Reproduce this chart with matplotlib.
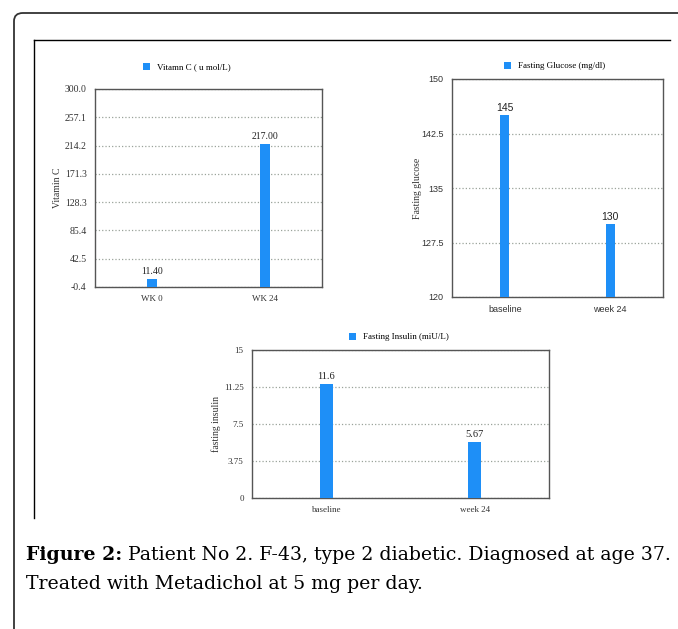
import matplotlib
matplotlib.use("Agg")
import matplotlib.pyplot as plt
from matplotlib.patches import FancyBboxPatch
from matplotlib.lines import Line2D

# data
vitc_labels = ["WK 0", "WK 24"]
vitc_values = [11.40, 217.00]
vitc_ticks = [-0.4, 42.5, 85.4, 128.3, 171.3, 214.2, 257.1, 300.0]

gluc_labels = ["baseline", "week 24"]
gluc_values = [145, 130]
gluc_ticks = [120, 127.5, 135, 142.5, 150]

ins_labels = ["baseline", "week 24"]
ins_values = [11.6, 5.67]
ins_ticks = [0, 3.75, 7.5, 11.25, 15]

W, H = 678, 629
BLUE = "#1e8ff7"
SERIF = ["Liberation Serif", "DejaVu Serif"]
SANS = ["Liberation Sans", "DejaVu Sans"]
CAPTION = ["DejaVu Serif"]

fig = plt.figure(figsize=(W / 100, H / 100), dpi=100)


def px_axes(left, top, right, bottom):
    return fig.add_axes([left / W, 1 - bottom / H, (right - left) / W, (bottom - top) / H])


def style_chart(ax, labels, values, ticks, tick_fmt, ylabel, legend, tick_font,
                val_fmt, label_x, leg_pos, tick_size=6.5, val_size=7.5):
    x = list(range(len(labels)))
    bars = ax.bar(x, values, width=0.088, color=BLUE, label=legend, zorder=3)
    ax.set_xlim(-0.5, len(labels) - 0.5)
    ax.set_ylim(ticks[0], ticks[-1])
    ax.set_yticks(ticks)
    ax.set_yticklabels([tick_fmt % t for t in ticks], family=tick_font,
                       fontsize=tick_size, color="#333333")
    ax.set_xticks(x)
    ax.set_xticklabels(labels, family=tick_font, fontsize=6.5, color="#333333")
    ax.tick_params(length=0, pad=6)
    ax.grid(axis="y", linestyle=":", color="#9aa39a", linewidth=0.9, zorder=0)
    for s in ax.spines.values():
        s.set_color("#555555")
        s.set_linewidth(1.0)
    ax.set_ylabel(ylabel, family=SERIF, fontsize=7, color="#333333")
    ax.yaxis.set_label_coords(label_x, 0.5)
    ax.bar_label(bars, labels=[val_fmt % v for v in values], padding=2,
                 family=tick_font, fontsize=val_size, color="#222222")
    ax.legend(loc="center left", bbox_to_anchor=leg_pos, frameon=False,
              prop={"family": SERIF, "size": 6.5}, handlelength=0.8,
              handleheight=0.8, handletextpad=0.8, borderpad=0, borderaxespad=0)


ax1 = px_axes(95, 89, 322, 287)
style_chart(ax1, vitc_labels, vitc_values, vitc_ticks, "%.1f", "Vitamin C",
            "Vitamn C ( u mol/L)", SERIF, "%.2f", -0.145,
            ((143 - 95) / 227, (287 - 67) / 198), tick_size=7, val_size=7)

ax2 = px_axes(452, 79, 663, 297)
style_chart(ax2, gluc_labels, gluc_values, gluc_ticks, "%g", "Fasting glucose",
            "Fasting Glucose (mg/dl)", SANS, "%d", -0.142,
            ((504 - 452) / 211, (297 - 66) / 218))

ax3 = px_axes(252, 350, 549, 498)
style_chart(ax3, ins_labels, ins_values, ins_ticks, "%g", "fasting insulin",
            "Fasting Insulin (miU/L)", SERIF, "%g", -0.105,
            ((349 - 252) / 297, (498 - 337) / 148))

# outer rounded frame and inner frame lines
outer = FancyBboxPatch((14 / W, -0.1), 1.2, 1 - 13 / H + 0.1,
                       boxstyle="round,pad=0,rounding_size=0.013",
                       transform=fig.transFigure, fill=False,
                       edgecolor="#333333", linewidth=1.3)
fig.add_artist(outer)
fig.add_artist(Line2D([34 / W, 670 / W], [1 - 40 / H, 1 - 40 / H],
                      transform=fig.transFigure, color="black", linewidth=1))
fig.add_artist(Line2D([34 / W, 34 / W], [1 - 40 / H, 1 - 518 / H],
                      transform=fig.transFigure, color="black", linewidth=1))

# caption
cap_size = 13.55
t1 = fig.text(26 / W, 1 - 560 / H, "Figure 2:", family=CAPTION, fontsize=cap_size,
              weight="bold", va="baseline", color="black")
fig.canvas.draw()
bb = t1.get_window_extent()
fig.text(bb.x1 / W + 6 / W, 1 - 560 / H,
         "Patient No 2. F-43, type 2 diabetic. Diagnosed at age 37.",
         family=CAPTION, fontsize=cap_size, va="baseline", color="black")
fig.text(26 / W, 1 - 589 / H, "Treated with Metadichol at 5 mg per day.",
         family=CAPTION, fontsize=cap_size, va="baseline", color="black")

fig.savefig("out.png", dpi=100)
